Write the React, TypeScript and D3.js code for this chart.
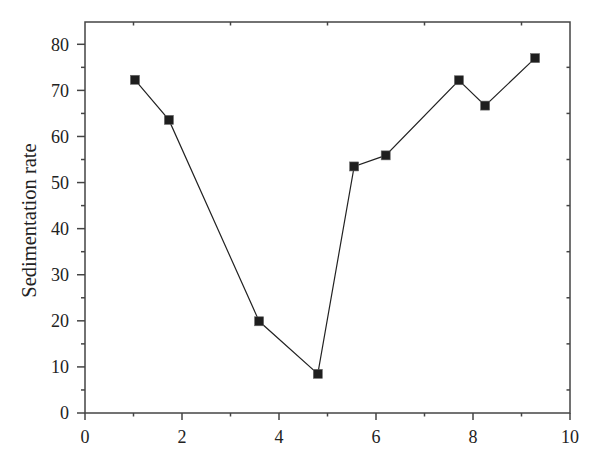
import React from 'react';
import { scaleLinear, line, range } from 'd3';

const width = 600;
const height = 464;
const left = 85;
const right = 570;
const top = 22;
const bottom = 413;

const xValues = [1.03, 1.73, 3.59, 4.8, 5.55, 6.2, 7.71, 8.25, 9.28];
const yValues = [72.3, 63.6, 19.9, 8.5, 53.5, 55.9, 72.2, 66.7, 77.0];
const xTicks = [0, 2, 4, 6, 8, 10];
const yTicks = [0, 10, 20, 30, 40, 50, 60, 70, 80];
const yLabel = 'Sedimentation rate';

const x = scaleLinear().domain([0, 10]).range([left, right]);
const y = scaleLinear().domain([0, 80]).range([bottom, 44.3]);

const points = xValues.map((v, i) => ({ x: v, y: yValues[i] }));

const lineGenerator = line<{ x: number; y: number }>()
  .x(d => x(d.x))
  .y(d => y(d.y));

const xMinor = range(1, 10, 2);
const yMinor = range(5, 85, 10);
const font = '"Liberation Serif", "DejaVu Serif", serif';
const axisColor = '#444';
const marker = 9;

const App = () => (
  <svg
    width={width}
    height={height}
    style={{ position: 'absolute', left: 0, top: 0, background: '#fff' }}
  >
    <rect x={left} y={top} width={right - left} height={bottom - top} fill='none' stroke={axisColor} strokeWidth={1.5} />

    {xTicks.map(t => (
      <g key={'xt' + t}>
        <line x1={x(t)} x2={x(t)} y1={bottom} y2={bottom + 7} stroke={axisColor} strokeWidth={1.5} />
        <text x={x(t)} y={bottom + 30} textAnchor='middle' fontFamily={font} fontSize={18} fill='#222'>{t}</text>
      </g>
    ))}
    {xMinor.map(t => (
      <g key={'xm' + t}>
        <line x1={x(t)} x2={x(t)} y1={bottom} y2={bottom + 3.5} stroke={axisColor} strokeWidth={1.5} />
        <line x1={x(t)} x2={x(t)} y1={top} y2={top + 3.5} stroke={axisColor} strokeWidth={1.5} />
      </g>
    ))}

    {yTicks.map(t => (
      <g key={'yt' + t}>
        <line x1={left - 8} x2={left} y1={y(t)} y2={y(t)} stroke={axisColor} strokeWidth={1.5} />
        <text x={left - 16} y={y(t)} dy='0.35em' textAnchor='end' fontFamily={font} fontSize={18} fill='#222'>{t}</text>
      </g>
    ))}
    {yMinor.map(t => (
      <g key={'ym' + t}>
        <line x1={left - 4} x2={left} y1={y(t)} y2={y(t)} stroke={axisColor} strokeWidth={1.5} />
        <line x1={right - 3.5} x2={right} y1={y(t)} y2={y(t)} stroke={axisColor} strokeWidth={1.5} />
      </g>
    ))}

    <text
      transform={`translate(36, ${(top + bottom) / 2 + 3}) rotate(-90)`}
      textAnchor='middle'
      fontFamily={font}
      fontSize={20.5}
      fill='#222'
    >
      {yLabel}
    </text>

    <path d={lineGenerator(points) as string} fill='none' stroke='#222' strokeWidth={1.2} />
    {points.map((p, i) => (
      <rect
        key={i}
        x={x(p.x) - marker / 2}
        y={y(p.y) - marker / 2}
        width={marker}
        height={marker}
        fill='#1e1e1e'
        stroke='#666'
        strokeWidth={0.6}
      />
    ))}
  </svg>
);

export default App;
